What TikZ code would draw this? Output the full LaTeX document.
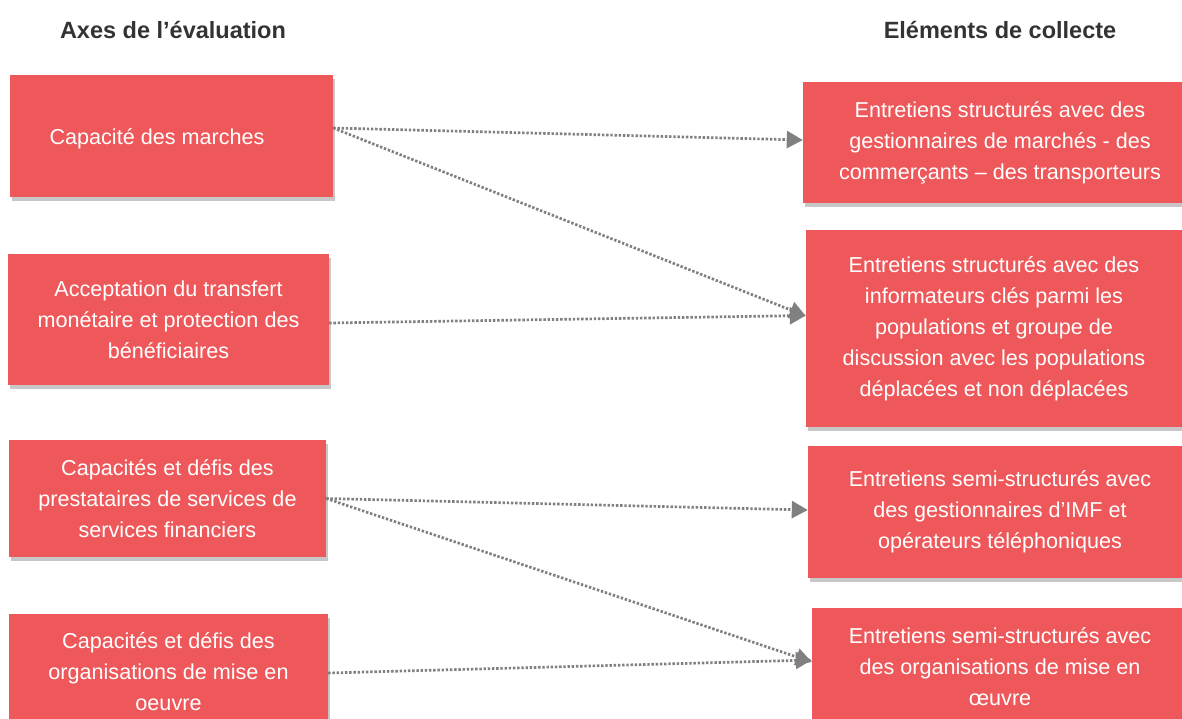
\documentclass[tikz,border=0pt]{standalone}
\usepackage{fontspec}
\setmainfont{Liberation Sans}
\usetikzlibrary{shadows,arrows.meta}
\definecolor{boxred}{RGB}{238,88,90}
\definecolor{arrowgray}{RGB}{128,128,128}
\begin{document}
\begin{tikzpicture}[x=1pt,y=-1pt,
  rbox/.style={fill=boxred, text=white, align=center, inner sep=0pt,
    font=\fontsize{21.6}{31}\selectfont,
    drop shadow={shadow xshift=2pt, shadow yshift=-4pt, opacity=0.22, fill=black}},
  head/.style={font=\fontsize{23.5}{28}\selectfont\bfseries, text=black!80},
  conn/.style={draw=arrowgray, line width=2.7pt, dash pattern=on 2.4pt off 1.8pt,
    -{Triangle[length=16pt,width=17pt]}}]
\useasboundingbox (0,0) rectangle (1182,718);
\clip (0,0) rectangle (1182,718);
\node[head] (hl) at (173,30) {Axes de l’évaluation};
\node[head] (hr) at (1000,30) {Eléments de collecte};
% left boxes
\node[rbox, minimum width=323pt, minimum height=122pt] (L1) at (171.5,136) {};
\node[text=white, font=\fontsize{21.6}{31}\selectfont] (L1t) at (157,139) {Capacité des marches};
\node[rbox, minimum width=321pt, minimum height=131pt] (L2) at (168.5,319.5)
  {Acceptation du transfert\\monétaire et protection des\\bénéficiaires};
\node[rbox, minimum width=317pt, minimum height=117pt] (L3) at (167.5,498.5)
  {Capacités et défis des\\prestataires de services de\\services financiers};
\node[rbox, minimum width=319pt, minimum height=116pt] (L4) at (168.5,672)
  {Capacités et défis des\\organisations de mise en\\oeuvre};
% right boxes
\node[rbox, minimum width=394pt, minimum height=121pt] (R1) at (1000,142.5)
  {Entretiens structurés avec des\\gestionnaires de marchés - des\\commerçants – des transporteurs};
\node[rbox, minimum width=376pt, minimum height=197pt] (R2) at (994,328.5)
  {Entretiens structurés avec des\\informateurs clés parmi les\\populations et groupe de\\discussion avec les populations\\déplacées et non déplacées};
\node[rbox, minimum width=384pt, minimum height=132pt] (R3) at (1000,512)
  {Entretiens semi-structurés avec\\des gestionnaires d’IMF et\\opérateurs téléphoniques};
\node[rbox, minimum width=376pt, minimum height=118pt] (R4) at (1000,667)
  {Entretiens semi-structurés avec\\des organisations de mise en\\œuvre};
% connectors
\draw[conn] ([yshift=8pt]L1.east) -- ([yshift=2.5pt]R1.west);
\draw[conn] ([yshift=8pt]L1.east) -- ([yshift=12.5pt]R2.west);
\draw[conn] ([yshift=-3.5pt]L2.east) -- ([yshift=13pt]R2.west);
\draw[conn] (L3.east) -- ([yshift=2pt]R3.west);
\draw[conn] (L3.east) -- ([yshift=5pt]R4.west);
\draw[conn] ([yshift=-1pt]L4.east) -- ([yshift=7pt]R4.west);
\end{tikzpicture}
\end{document}
